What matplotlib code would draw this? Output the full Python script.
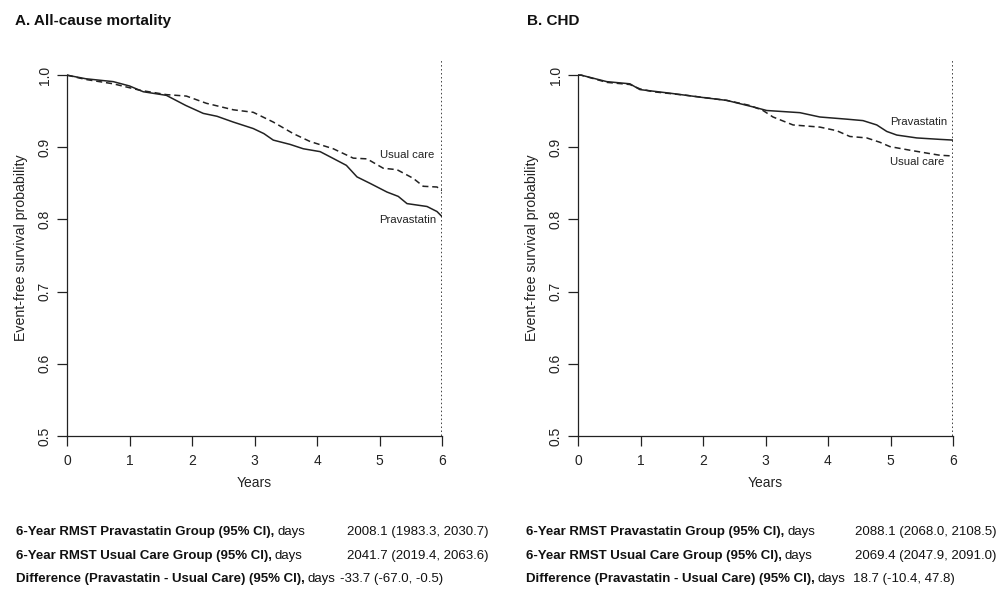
"""Kaplan-Meier style curves for all-cause mortality and CHD, with RMST table."""
import matplotlib
matplotlib.use("Agg")
import matplotlib.pyplot as plt

plt.rcParams["font.family"] = ["Liberation Sans", "DejaVu Sans"]

# ---- data ----
# panel A: all-cause mortality
a_prav_t = [0, 0.30, 0.74, 1.00, 1.22, 1.59, 1.90, 2.18, 2.40, 2.66, 2.98, 3.15, 3.30,
            3.57, 3.78, 4.05, 4.25, 4.47, 4.64, 4.85, 5.12, 5.30, 5.44, 5.76, 5.92, 6.0]
a_prav_s = [1.0, 0.995, 0.991, 0.985, 0.977, 0.972, 0.958, 0.947, 0.943, 0.935, 0.926, 0.919, 0.910,
            0.904, 0.898, 0.894, 0.885, 0.875, 0.859, 0.850, 0.838, 0.832, 0.822, 0.818, 0.811, 0.804]
a_usual_t = [0, 0.30, 0.74, 1.17, 1.59, 1.91, 2.23, 2.66, 2.98, 3.30, 3.62, 3.89, 4.26,
             4.58, 4.80, 5.06, 5.28, 5.54, 5.70, 5.92, 6.0]
a_usual_s = [1.0, 0.994, 0.988, 0.979, 0.973, 0.971, 0.961, 0.952, 0.9485, 0.935, 0.919, 0.908, 0.898,
             0.885, 0.884, 0.871, 0.869, 0.857, 0.846, 0.845, 0.840]

# panel B: CHD
b_prav_t = [0, 0.05, 0.46, 0.83, 0.99, 1.47, 2.0, 2.38, 2.80, 3.02, 3.55, 3.87, 4.30,
            4.56, 4.78, 4.94, 5.10, 5.42, 5.79, 6.0]
b_prav_s = [1.0, 1.0, 0.991, 0.988, 0.980, 0.975, 0.969, 0.965, 0.956, 0.951, 0.948, 0.942, 0.939,
            0.937, 0.931, 0.922, 0.917, 0.913, 0.911, 0.910]
b_usual_t = [0, 0.05, 0.46, 0.83, 0.99, 1.20, 1.74, 2.38, 2.75, 2.96, 3.12, 3.44, 3.87, 4.14,
             4.35, 4.62, 4.83, 4.99, 5.31, 5.58, 5.79, 6.0]
b_usual_s = [1.0, 1.0, 0.990, 0.987, 0.981, 0.977, 0.972, 0.965, 0.958, 0.951, 0.942, 0.931, 0.928, 0.923,
             0.915, 0.913, 0.907, 0.901, 0.896, 0.892, 0.889, 0.888]

panel_titles = ["A. All-cause mortality", "B. CHD"]
x_ticks = [0, 1, 2, 3, 4, 5, 6]
y_ticks = [0.5, 0.6, 0.7, 0.8, 0.9, 1.0]

row_labels = ["6-Year RMST Pravastatin Group (95% CI),",
              "6-Year RMST Usual Care Group (95% CI),",
              "Difference (Pravastatin - Usual Care) (95% CI),"]
a_values = ["2008.1 (1983.3, 2030.7)", "2041.7 (2019.4, 2063.6)", "-33.7 (-67.0, -0.5)"]
b_values = ["2088.1 (2068.0, 2108.5)", "2069.4 (2047.9, 2091.0)", "18.7 (-10.4, 47.8)"]

# curve label positions (data coords) per panel: (usual care, pravastatin)
label_pos = [((5.0, 0.890), (5.0, 0.799)), ((5.0, 0.880), (5.0, 0.935))]

INK = "#222222"
FS_TABLE = 9.5

fig = plt.figure(figsize=(10, 5.91), dpi=100)

axes = [fig.add_axes([0.067, 0.2623, 0.375, 0.6362]),
        fig.add_axes([0.578, 0.2623, 0.375, 0.6362])]

curves = [(a_prav_t, a_prav_s, a_usual_t, a_usual_s),
          (b_prav_t, b_prav_s, b_usual_t, b_usual_s)]

for ax, (pt, ps, ut, us), (u_pos, p_pos) in zip(axes, curves, label_pos):
    ax.plot(pt, ps, color=INK, lw=1.1)
    ax.plot(ut, us, color=INK, lw=1.1, ls=(0, (4, 2.5)))
    ax.axvline(6, color="#111111", lw=1.1, ls=(0, (1, 1.6)))
    ax.text(u_pos[0], u_pos[1], "Usual care", fontsize=8.2, color=INK, va="center", ha="left")
    ax.text(p_pos[0], p_pos[1], "Pravastatin", fontsize=8.2, color=INK, va="center", ha="left")

    ax.set_xlim(0, 6)
    ax.set_ylim(0.5, 1.021)
    ax.set_xticks(x_ticks)
    ax.set_yticks(y_ticks)
    ax.set_yticklabels([f"{v:.1f}" for v in y_ticks])
    ax.tick_params(direction="out", length=7, width=0.9, colors=INK, labelsize=10, pad=6)
    ax.tick_params(axis="y", labelrotation=90, pad=4)
    for lbl in ax.get_yticklabels():
        lbl.set_va("center")
    for side in ("top", "right"):
        ax.spines[side].set_visible(False)
    for side in ("left", "bottom"):
        ax.spines[side].set_color(INK)
        ax.spines[side].set_linewidth(0.9)
    ax.spines["left"].set_bounds(0.5, 1.0)
    ax.set_xlabel("Years", fontsize=10, color=INK, labelpad=6)
    ax.set_ylabel("Event-free survival probability", fontsize=10.2, color=INK, labelpad=7)

# panel titles
fig.text(0.015, 0.965, panel_titles[0], fontsize=11, fontweight="bold", color="#111111", va="center")
fig.text(0.527, 0.965, panel_titles[1], fontsize=11, fontweight="bold", color="#111111", va="center")

# RMST table under each panel: bold label, " days", then the value
row_y = [532, 556, 579]
value_x = {"A": [347, 347, 340], "B": [855, 855, 853]}
fig.canvas.draw()
renderer = fig.canvas.get_renderer()
for key, x_label, values in [("A", 16, a_values), ("B", 526, b_values)]:
    for y_px, label, val, vx in zip(row_y, row_labels, values, value_x[key]):
        fy = 1 - y_px / 591
        t = fig.text(x_label / 1000, fy, label, fontsize=FS_TABLE, fontweight="bold",
                     color="#111111", va="center")
        bb = t.get_window_extent(renderer=renderer)
        fig.text(bb.x1 / fig.bbox.width + 0.003, fy, "days", fontsize=FS_TABLE,
                 color="#111111", va="center")
        fig.text(vx / 1000, fy, val, fontsize=FS_TABLE, color="#111111", va="center")

fig.savefig("out.png", dpi=100)
